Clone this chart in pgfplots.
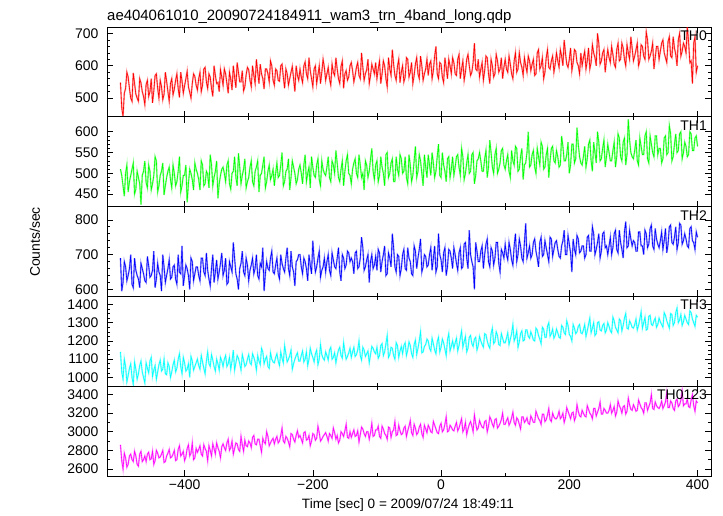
\documentclass[border=0pt]{standalone}
\usepackage{fontspec}
\setmainfont{Liberation Sans}
\usepackage{pgfplots}
\usepackage{pgfplotstable}
\pgfplotsset{compat=1.18}
\definecolor{qred}{rgb}{1,0,0}
\definecolor{qgreen}{rgb}{0,1,0}
\definecolor{qblue}{rgb}{0,0,1}
\definecolor{qcyan}{rgb}{0,1,1}
\definecolor{qmagenta}{rgb}{1,0,1}
\pgfplotstableread{
x a b c d e
-500 548 510 690 1140 2860
-498 470 495 595 1030 2690
-496 442 470 620 990 2600
-494 515 445 680 1100 2770
-492 530 500 665 1060 2720
-490 580 520 625 975 2620
-488 565 455 640 1010 2650
-486 530 480 660 1050 2740
-484 500 495 700 1075 2760
-482 490 510 615 1000 2700
-480 578 525 605 960 2680
-478 545 450 690 1085 2790
-476 512 462 655 1045 2740
-474 500 505 640 990 2650
-472 490 490 630 1020 2630
-470 560 475 605 1065 2760
-468 547 425 675 1090 2790
-466 520 495 660 1030 2680
-464 505 505 645 1000 2700
-462 480 530 625 970 2740
-460 542 478 620 1080 2680
-458 555 465 695 1050 2760
-456 505 520 668 1025 2780
-454 520 505 635 1090 2700
-452 560 460 640 1110 2710
-450 485 475 655 1005 2790
-448 522 495 710 1040 2650
-446 570 540 605 1065 2690
-444 575 530 630 990 2800
-442 530 455 675 1030 2770
-440 500 470 650 1070 2720
-438 555 495 640 1095 2730
-436 535 505 595 1035 2760
-434 495 525 700 1045 2800
-432 512 448 665 1100 2670
-430 580 470 620 1020 2680
-428 552 490 640 1015 2740
-426 520 505 660 1080 2770
-424 490 515 685 1060 2810
-422 545 485 630 1000 2720
-420 560 465 635 1030 2730
-418 510 520 665 1070 2760
-416 528 500 670 1095 2800
-414 555 470 630 1030 2690
-412 575 480 615 1050 2700
-410 530 505 700 1100 2810
-408 502 540 650 1130 2850
-406 580 455 645 1060 2740
-404 553 470 725 1020 2760
-402 515 495 610 1110 2790
-400 538 495 640 1080 2690
-398 560 520 670 1035 2730
-396 583 430 660 1045 2820
-394 535 475 640 1075 2860
-392 518 510 600 1000 2740
-390 500 500 690 1115 2770
-388 545 485 680 1090 2880
-386 575 460 625 1040 2700
-384 567 525 645 1060 2720
-382 540 510 665 1080 2820
-380 525 500 665 1100 2780
-378 560 485 640 1065 2810
-376 580 460 625 1045 2850
-374 520 530 690 1120 2760
-372 540 520 690 1085 2740
-370 590 470 650 1050 2860
-368 595 475 640 1020 2820
-366 550 505 705 1090 2790
-364 530 498 655 1140 2690
-362 575 465 630 1075 2850
-360 565 545 610 1060 2800
-358 530 520 660 1125 2740
-356 505 470 700 1095 2870
-354 600 490 620 1060 2820
-352 570 505 650 1035 2760
-350 545 530 685 1100 2880
-348 548 440 630 1075 2830
-346 520 475 650 1040 2790
-344 588 495 675 1110 2720
-342 565 510 705 1090 2840
-340 540 515 640 1060 2870
-338 590 500 655 1100 2830
-336 575 480 690 1120 2800
-334 545 520 615 1060 2880
-332 515 530 620 1075 2920
-330 580 475 680 1110 2800
-328 558 462 665 1045 2830
-326 525 500 650 1090 2900
-324 600 505 735 1150 2760
-322 565 540 690 1040 2820
-320 532 490 645 1080 2880
-318 610 470 630 1120 2870
-316 580 548 600 1105 2810
-314 550 515 660 1075 2790
-312 550 475 675 1040 2950
-310 585 495 710 1125 2860
-308 522 510 650 1095 2790
-306 535 535 640 1060 2910
-304 572 465 690 1070 2850
-302 595 480 670 1100 2840
-300 588 490 625 1125 2900
-298 555 515 655 1080 2880
-296 535 530 670 1070 2830
-294 600 480 690 1130 2940
-292 570 470 645 1110 2960
-290 545 505 660 1085 2870
-288 620 515 700 1040 2860
-286 580 530 640 1120 2920
-284 545 455 630 1090 2920
-282 605 495 675 1070 2850
-280 575 500 665 1160 2780
-278 560 520 720 1140 2930
-276 528 540 595 1075 2890
-274 590 465 645 1100 2870
-272 590 480 680 1115 3000
-270 575 505 660 1060 2950
-268 550 520 655 1050 2850
-266 615 485 690 1135 2880
-264 600 495 710 1100 2910
-262 555 510 650 1085 2930
-260 540 470 645 1080 2870
-258 590 500 670 1110 2920
-256 585 525 690 1130 2950
-254 555 490 645 1090 2880
-252 552 495 630 1065 2900
-250 600 520 700 1140 2960
-248 605 550 675 1105 3040
-246 565 470 660 1080 2900
-244 530 480 650 1175 2880
-242 590 505 690 1130 2950
-240 575 510 720 1085 2930
-238 540 535 660 1100 2890
-236 560 460 640 1120 2840
-234 580 490 710 1150 2980
-232 598 530 665 1045 2970
-230 560 515 650 1075 2920
-228 520 500 610 1100 2890
-226 600 475 680 1120 2960
-224 570 485 685 1135 3010
-222 555 510 700 1090 2940
-220 590 520 700 1090 2960
-218 565 500 665 1120 2920
-216 548 475 645 1145 2880
-214 600 520 690 1085 2990
-212 612 545 680 1100 3000
-210 575 480 660 1140 2910
-208 560 500 625 1065 2920
-206 625 515 700 1100 2960
-204 585 465 670 1160 2850
-202 560 540 645 1130 2900
-200 535 515 740 1110 2980
-198 590 495 685 1085 2970
-196 600 490 650 1130 2910
-194 545 520 665 1150 2930
-192 572 535 690 1070 3060
-190 600 485 710 1100 2990
-188 545 470 635 1180 2900
-186 580 530 655 1125 2920
-184 620 510 665 1105 2950
-182 595 500 690 1095 2970
-180 555 495 650 1140 2990
-178 575 515 680 1120 2950
-176 595 540 700 1095 2900
-174 560 490 655 1150 2980
-172 540 480 640 1165 2960
-170 605 530 705 1100 2930
-168 580 520 685 1110 3040
-166 570 500 665 1135 2990
-164 625 555 660 1080 2920
-162 590 525 690 1120 2960
-160 560 490 720 1150 2880
-158 545 480 650 1165 2910
-156 598 510 625 1120 3000
-154 615 530 700 1105 2980
-152 530 470 690 1190 2950
-150 575 505 660 1140 3010
-148 585 530 670 1100 3080
-146 555 545 710 1115 2940
-144 565 500 705 1135 2930
-142 600 495 680 1160 3000
-140 610 475 690 1110 2940
-138 585 510 680 1140 2980
-136 550 525 645 1165 3020
-134 570 535 705 1115 2950
-132 595 500 710 1125 2960
-130 610 490 660 1150 3010
-128 570 545 665 1200 2890
-126 560 520 690 1120 2970
-124 640 490 750 1095 3050
-122 595 500 720 1165 3030
-120 555 460 655 1150 2980
-118 575 530 665 1115 2950
-116 588 520 685 1130 3000
-114 620 490 700 1145 3000
-112 545 505 620 1080 2920
-110 570 535 680 1125 2990
-108 605 560 700 1170 3090
-106 590 505 660 1160 2950
-104 575 485 670 1140 2960
-102 610 520 695 1130 3020
-100 560 530 655 1165 3020
-98 590 480 715 1105 3060
-96 615 495 705 1120 2950
-94 545 540 650 1175 2930
-92 575 515 680 1185 3060
-90 615 500 700 1120 3030
-88 600 470 725 1140 2980
-86 560 545 640 1185 2960
-84 535 550 645 1230 2920
-82 625 490 705 1110 3050
-80 590 500 690 1125 3040
-78 570 525 665 1165 2940
-76 650 535 760 1160 3000
-74 605 480 720 1120 3020
-72 570 480 665 1100 3110
-70 555 540 650 1190 2960
-68 598 510 700 1175 2970
-66 620 495 695 1110 3070
-64 548 545 640 1145 3010
-62 580 535 660 1170 2970
-60 600 500 700 1130 2980
-58 550 505 715 1175 3040
-56 565 540 660 1190 3060
-54 625 490 655 1120 2950
-52 620 475 720 1150 3010
-50 565 545 690 1195 3060
-48 580 520 680 1175 3120
-46 610 480 645 1130 2990
-44 545 495 640 1110 2960
-42 570 530 725 1180 3080
-40 605 565 710 1205 3040
-38 625 490 660 1125 2970
-36 575 505 690 1160 2990
-34 560 545 715 1200 3050
-32 630 530 745 1250 3080
-30 600 500 650 1135 2980
-28 555 470 665 1140 2940
-26 575 545 700 1170 3070
-24 590 515 695 1180 3030
-22 620 490 665 1210 2990
-20 570 545 670 1200 3070
-18 605 520 700 1160 3040
-16 615 495 720 1145 3000
-14 560 550 655 1215 2990
-12 585 525 690 1185 3110
-10 630 490 725 1150 3070
-8 660 505 650 1130 3030
-6 575 540 665 1195 2990
-4 560 570 760 1220 2980
-2 610 495 700 1140 3060
0 605 490 685 1165 3090
2 565 550 650 1210 3000
4 548 520 705 1190 3020
6 625 505 720 1155 3080
8 595 480 640 1120 3160
10 560 535 665 1205 3000
12 620 540 715 1240 3010
14 600 490 710 1145 3070
16 575 510 690 1170 3050
18 625 540 660 1200 3020
20 610 495 720 1160 3010
22 575 515 700 1190 3060
24 570 540 675 1215 3100
26 620 545 655 1145 3010
28 635 515 705 1175 3040
30 560 495 720 1215 3090
32 590 560 660 1255 3140
34 615 540 665 1165 3000
36 555 485 730 1195 3030
38 580 500 735 1225 3100
40 620 525 690 1140 2970
42 635 545 660 1160 3030
44 600 500 770 1220 3080
46 570 505 700 1230 3110
48 580 545 680 1185 3060
50 610 550 665 1170 3000
52 670 475 600 1210 3180
54 590 495 735 1220 3090
56 585 530 710 1150 3020
58 620 535 680 1175 3040
60 565 550 680 1225 3120
62 590 530 710 1200 3080
64 610 505 725 1180 3050
66 555 505 660 1165 3040
68 585 535 700 1240 3110
70 630 555 730 1235 3120
72 625 490 745 1200 3000
74 575 515 680 1175 3060
76 545 580 665 1160 3160
78 620 550 720 1240 3130
80 600 515 710 1270 3080
82 565 500 670 1185 3050
84 575 545 690 1195 3130
86 635 560 735 1250 3140
88 615 500 735 1230 3040
90 580 510 675 1180 3060
92 590 525 650 1175 3090
94 625 555 715 1240 3130
96 560 560 705 1215 3200
98 595 520 690 1190 3080
100 620 510 730 1190 3080
102 590 530 700 1215 3120
104 580 545 685 1245 3150
106 630 505 735 1180 3070
108 605 490 715 1210 3100
110 575 555 685 1240 3150
112 560 530 670 1290 3210
114 615 520 725 1200 3100
116 640 565 760 1220 3070
118 580 560 680 1255 3150
120 590 505 700 1165 3130
122 640 510 745 1195 3080
124 610 540 725 1240 3030
126 595 560 690 1255 3160
128 570 485 680 1200 3160
130 625 520 735 1205 3100
132 600 525 790 1260 3120
134 580 550 690 1260 3150
136 630 600 705 1225 3090
138 615 515 725 1215 3080
140 585 520 690 1250 3170
142 605 545 700 1230 3140
144 620 555 735 1205 3100
146 570 515 745 1200 3100
148 575 500 710 1270 3220
150 640 560 690 1260 3180
152 650 540 665 1230 3140
154 590 520 735 1210 3120
156 600 575 750 1185 3080
158 625 565 695 1275 3190
160 560 510 700 1265 3190
162 580 515 740 1220 3110
164 625 545 720 1220 3130
166 650 560 700 1280 3180
168 595 490 680 1300 3250
170 590 530 750 1225 3130
172 615 560 745 1240 3110
174 630 565 695 1265 3200
176 580 530 715 1215 3160
178 605 525 735 1230 3140
180 640 555 740 1265 3140
182 615 540 715 1245 3170
184 595 515 695 1220 3220
186 650 520 690 1215 3140
188 630 590 725 1285 3160
190 600 565 740 1275 3200
192 680 530 770 1245 3100
194 640 530 700 1235 3150
196 605 545 700 1310 3260
198 595 575 755 1285 3220
200 620 500 730 1235 3180
202 655 520 705 1225 3140
204 585 570 650 1200 3200
206 610 570 745 1290 3210
208 650 525 715 1270 3120
210 645 535 700 1240 3160
212 610 610 755 1250 3290
214 600 570 745 1280 3220
216 575 540 705 1290 3170
218 640 525 710 1245 3160
220 600 520 725 1240 3230
222 625 540 725 1260 3200
224 645 565 690 1290 3170
226 590 515 700 1225 3160
228 615 535 750 1255 3280
230 655 570 755 1290 3240
232 590 580 710 1325 3200
234 610 530 710 1245 3180
236 665 505 780 1270 3140
238 640 575 760 1300 3250
240 625 550 700 1230 3250
242 600 525 715 1240 3170
244 700 600 735 1300 3210
246 670 575 760 1305 3250
248 605 530 690 1260 3320
250 615 535 710 1255 3190
252 640 560 760 1285 3190
254 650 580 765 1295 3250
256 580 515 720 1245 3230
258 620 540 725 1260 3200
260 650 570 700 1300 3200
262 625 550 725 1280 3230
264 610 530 750 1255 3290
266 660 530 700 1245 3200
268 635 555 720 1330 3230
270 605 575 760 1310 3270
272 595 515 770 1275 3170
274 650 540 715 1260 3210
276 670 595 705 1245 3330
278 615 585 770 1320 3280
280 620 540 735 1310 3250
282 670 530 715 1255 3200
284 655 575 690 1285 3270
286 620 585 765 1325 3280
288 600 520 795 1350 3190
290 665 545 720 1270 3220
292 640 630 725 1265 3360
294 620 580 770 1310 3290
296 690 550 745 1295 3240
298 655 540 725 1275 3230
300 615 535 740 1270 3290
302 630 555 735 1290 3260
304 650 580 710 1320 3220
306 670 530 710 1260 3230
308 600 520 765 1285 3340
310 615 585 765 1320 3300
312 665 565 725 1360 3260
314 660 545 725 1270 3240
316 630 545 700 1300 3200
318 620 590 770 1330 3310
320 705 600 760 1260 3310
322 680 535 720 1265 3230
324 620 525 730 1335 3270
326 630 590 775 1340 3310
328 645 570 785 1290 3400
330 670 550 725 1285 3250
332 590 540 715 1310 3240
334 625 590 775 1325 3320
336 660 590 745 1275 3280
338 660 545 730 1290 3260
340 620 560 720 1325 3250
342 645 560 740 1305 3280
344 670 525 765 1290 3330
346 680 535 715 1275 3250
348 640 585 740 1355 3280
350 625 590 775 1340 3320
352 610 545 705 1310 3420
354 675 550 730 1290 3260
356 690 615 780 1270 3260
358 630 595 785 1350 3330
360 625 530 735 1345 3310
362 690 540 730 1285 3250
364 655 570 750 1300 3230
366 635 595 780 1355 3330
368 600 550 715 1380 3350
370 680 555 735 1300 3270
372 700 595 790 1315 3290
374 630 600 785 1345 3340
376 645 535 730 1285 3440
378 670 550 740 1305 3280
380 660 575 760 1340 3300
382 640 565 745 1320 3300
384 720 540 725 1300 3350
386 675 545 720 1290 3270
388 610 600 775 1365 3260
390 615 595 780 1355 3340
392 545 555 740 1320 3400
394 670 555 735 1300 3280
396 690 585 715 1280 3220
398 580 590 765 1340 3330
400 600 565 750 1330 3310
}\datatable

\pgfplotsset{
  panel/.style={
    width=604bp, height=89.8bp, scale only axis,
    anchor=north west,
    xmin=-521, xmax=421,
    xtick={-400,-200,0,200,400},
    minor x tick num=1,
    xticklabels={},
    tick align=inside, tick pos=both,
    major tick length=6bp, minor tick length=3.5bp,
    tick style={black, line width=0.6bp},
    axis line style={black, line width=0.8bp},
    tick label style={font=\fontsize{14}{16}\selectfont},
    /pgf/number format/assume math mode=true,
    /pgf/number format/1000 sep={},
    scaled y ticks=false,
    yticklabel style={xshift=-5bp},
  },
  halo/.style={line width=1.6bp, opacity=0.4, #1},
  series/.style={line width=0.6bp, #1},
}
\newcommand{\paneltag}[1]{\node[anchor=north east, inner xsep=4bp, inner ysep=3.5bp, font=\fontsize{14}{16}\selectfont] at (rel axis cs:1,1) {#1};}

\begin{document}
\begin{tikzpicture}
\useasboundingbox (-107bp,27bp) rectangle (616bp,-489bp);

\begin{axis}[panel, at={(0bp,0bp)}, ymin=442, ymax=720, ytick={500,600,700}, minor y tick num=4]
\addplot[halo=qred] table[x=x, y=a] {\datatable};
\addplot[series=qred] table[x=x, y=a] {\datatable};
\paneltag{TH0}
\end{axis}

\begin{axis}[panel, at={(0bp,-89.8bp)}, ymin=420, ymax=636, ytick={450,500,550,600}, minor y tick num=4]
\addplot[halo=qgreen] table[x=x, y=b] {\datatable};
\addplot[series=qgreen] table[x=x, y=b] {\datatable};
\paneltag{TH1}
\end{axis}

\begin{axis}[panel, at={(0bp,-179.6bp)}, ymin=580, ymax=838, ytick={600,700,800}, minor y tick num=4]
\addplot[halo=qblue] table[x=x, y=c] {\datatable};
\addplot[series=qblue] table[x=x, y=c] {\datatable};
\paneltag{TH2}
\end{axis}

\begin{axis}[panel, at={(0bp,-269.4bp)}, ymin=952, ymax=1444, ytick={1000,1100,1200,1300,1400}, minor y tick num=3]
\addplot[halo=qcyan] table[x=x, y=d] {\datatable};
\addplot[series=qcyan] table[x=x, y=d] {\datatable};
\paneltag{TH3}
\end{axis}

\begin{axis}[panel, at={(0bp,-359.2bp)}, ymin=2525, ymax=3489, ytick={2600,2800,3000,3200,3400}, minor y tick num=1,
  xticklabels={−400,−200,0,200,400}]
\addplot[halo=qmagenta] table[x=x, y=e] {\datatable};
\addplot[series=qmagenta] table[x=x, y=e] {\datatable};
\paneltag{TH0123}
\end{axis}

\node[anchor=base west, inner sep=0pt, font=\fontsize{15}{17}\selectfont] at (0bp,7bp) {ae404061010\_20090724184911\_wam3\_trn\_4band\_long.qdp};
\node[rotate=90, font=\fontsize{14}{16}\selectfont] at (-72bp,-215bp) {Counts/sec};
\node[font=\fontsize{13.6}{16}\selectfont] at (301bp,-478bp) {Time [sec] 0 = 2009/07/24 18:49:11};
\end{tikzpicture}
\end{document}
